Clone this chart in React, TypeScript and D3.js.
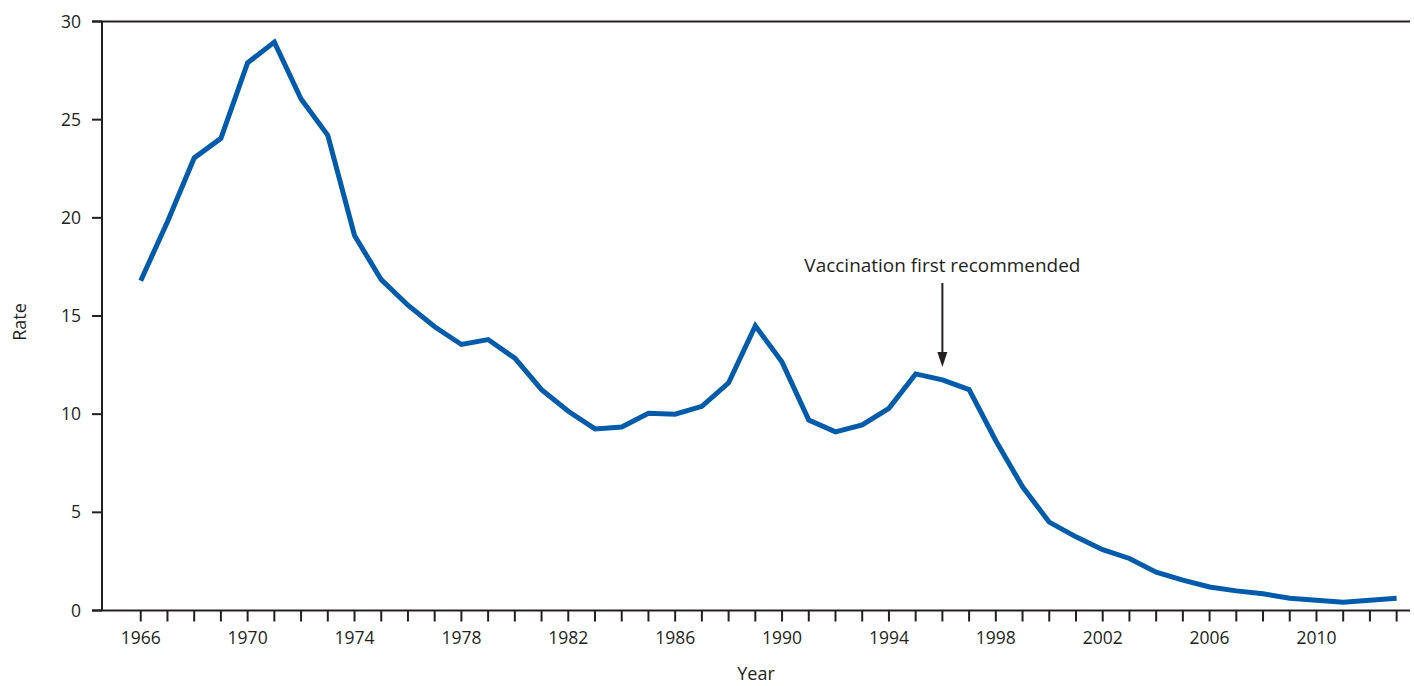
import React from "react";
import * as d3 from "d3";

const years: number[] = d3.range(1966, 2014);
const rates: number[] = [
  16.8, 19.8, 23.05, 24.05, 27.9, 28.95, 26.05, 24.2, 19.1, 16.85,
  15.55, 14.45, 13.55, 13.8, 12.85, 11.25, 10.15, 9.25, 9.35, 10.05,
  10.0, 10.4, 11.6, 14.5, 12.65, 9.7, 9.1, 9.45, 10.3, 12.05,
  11.75, 11.25, 8.65, 6.3, 4.5, 3.75, 3.1, 2.65, 1.95, 1.55,
  1.2, 1.0, 0.85, 0.62, 0.52, 0.42, 0.52, 0.62,
];
const yTicks: number[] = [0, 5, 10, 15, 20, 25, 30];
const xLabelYears: number[] = [1966, 1970, 1974, 1978, 1982, 1986, 1990, 1994, 1998, 2002, 2006, 2010];
const annotationYear = 1996;
const annotationText = "Vaccination first recommended";

export default function App() {
  const W = 1414, H = 686;
  const left = 102, right = 1410, top = 21.5, bottom = 610.5;
  const x = d3.scaleLinear().domain([1964.55, 2013.5]).range([left, right]);
  const y = d3.scaleLinear().domain([0, 30]).range([bottom, top]);
  const line = d3.line<number>().x((_, i) => x(years[i])).y((d) => y(d));
  const font = "'Open Sans', sans-serif";
  const ax = x(annotationYear);
  return (
    <svg width={W} height={H} style={{ position: "absolute", left: 0, top: 0 }} fontFamily={font}>
      <line x1={left - 10} x2={right} y1={top} y2={top} stroke="#231f20" strokeWidth={2} />
      <line x1={left} x2={left} y1={top} y2={bottom} stroke="#231f20" strokeWidth={2} />
      <line x1={left - 10} x2={right} y1={bottom} y2={bottom} stroke="#231f20" strokeWidth={2} />
      {yTicks.map((t) => (
        <g key={t}>
          <line x1={left - 10} x2={left} y1={y(t)} y2={y(t)} stroke="#231f20" strokeWidth={2} />
          <text x={81} y={y(t)} dy="0.35em" textAnchor="end" fontSize={17.5} fill="#231f20">{t}</text>
        </g>
      ))}
      {years.map((yr) => (
        <line key={yr} x1={x(yr)} x2={x(yr)} y1={bottom} y2={bottom + 11} stroke="#231f20" strokeWidth={2} />
      ))}
      {xLabelYears.map((yr) => (
        <text key={yr} x={x(yr)} y={644} textAnchor="middle" fontSize={17.5} fill="#231f20">{yr}</text>
      ))}
      <text x={756} y={680} textAnchor="middle" fontSize={18} fill="#231f20">Year</text>
      <text transform={`translate(26,${(top + bottom) / 2 + 6}) rotate(-90)`} textAnchor="middle" fontSize={18} fill="#231f20">Rate</text>
      <path d={line(rates) || ""} fill="none" stroke="#005bab" strokeWidth={5} strokeLinejoin="miter" />
      <text x={ax} y={272} textAnchor="middle" fontSize={18} textLength={276} lengthAdjust="spacingAndGlyphs" fill="#231f20">{annotationText}</text>
      <line x1={ax} x2={ax} y1={283} y2={355} stroke="#231f20" strokeWidth={2} />
      <path d={`M${ax - 5},352 L${ax + 5},352 L${ax},367 Z`} fill="#231f20" />
    </svg>
  );
}
